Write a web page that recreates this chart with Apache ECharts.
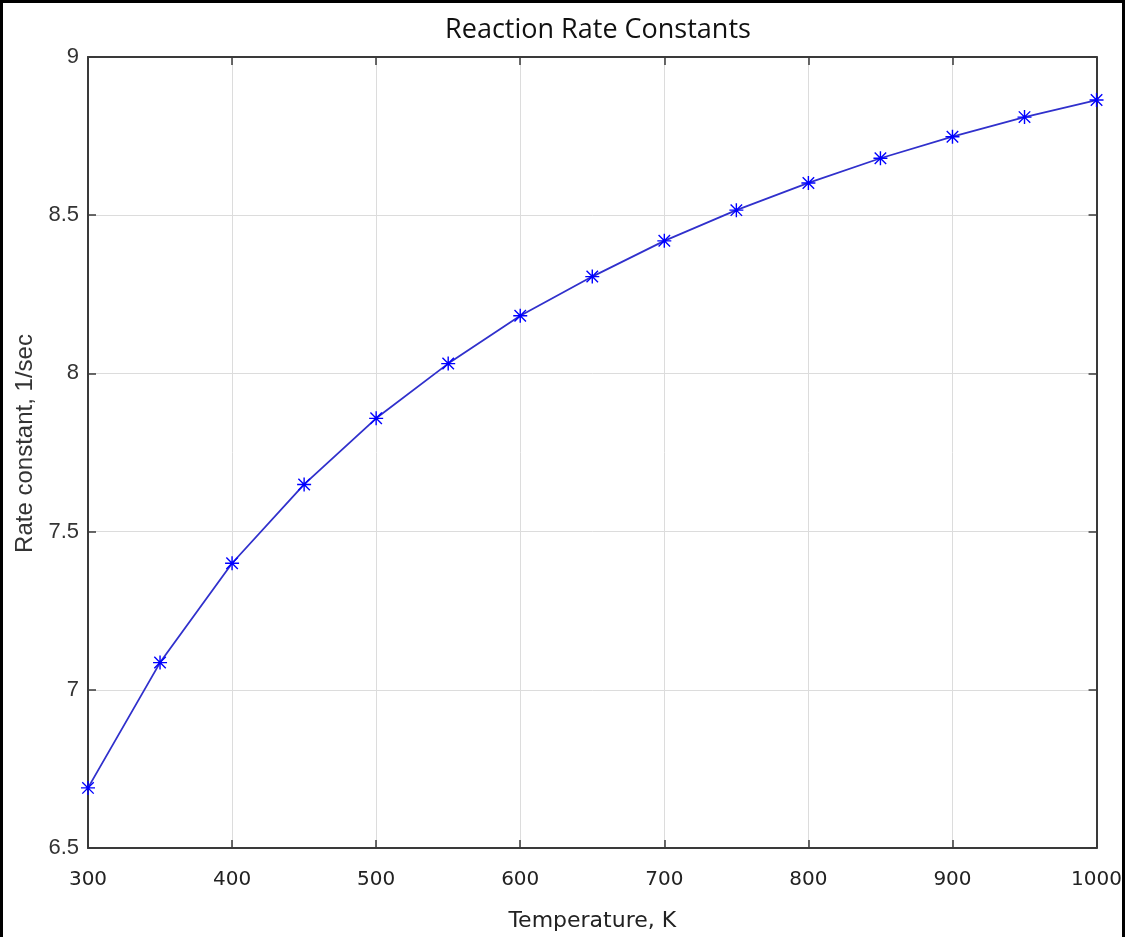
<!DOCTYPE html>
<html>
<head>
<meta charset="utf-8">
<script src="https://cdn.jsdelivr.net/npm/echarts@6/dist/echarts.min.js"></script>
<style>
html,body{margin:0;padding:0;background:#fff;}
#frame{position:absolute;left:0;top:0;width:1125px;height:937px;box-sizing:border-box;border-left:3px solid #000;border-top:3px solid #000;border-right:3px solid #000;}
#chart{position:absolute;left:0;top:0;width:1125px;height:937px;}
</style>
</head>
<body>
<div id="chart"></div>
<div id="frame"></div>
<script>
const titleText = 'Reaction Rate Constants';
const xName = 'Temperature, K';
const yName = 'Rate constant, 1/sec';
const temperatures = [300, 350, 400, 450, 500, 550, 600, 650, 700, 750, 800, 850, 900, 950, 1000];
const rates = [6.69, 7.086, 7.40, 7.649, 7.858, 8.031, 8.182, 8.306, 8.419, 8.516, 8.602, 8.680, 8.748, 8.810, 8.864];

const points = temperatures.map((t, i) => [t, rates[i]]);
const asterisk = 'path://M9 0H11V20H9Z M0 9H20V11H0Z M2.5 1.1L18.9 17.5L17.5 18.9L1.1 2.5Z M17.5 1.1L18.9 2.5L2.5 18.9L1.1 17.5Z';
const axisCol = '#3a3a3a';

const chart = echarts.init(document.getElementById('chart'), null, {renderer: 'canvas'});
chart.setOption({
  backgroundColor: '#fff',
  animation: false,
  title: {
    text: titleText, left: 593, top: 12, textAlign: 'center',
    textStyle: {fontFamily: 'Open Sans', fontSize: 27, fontWeight: 'normal', color: '#111'}
  },
  grid: {left: 88, right: 28, top: 57, bottom: 88, containLabel: false},
  xAxis: [{
    type: 'value', min: 300, max: 1000, interval: 100,
    name: xName, nameLocation: 'middle', nameGap: 62,
    nameTextStyle: {fontFamily: 'DejaVu Sans', fontSize: 22, color: '#222'},
    axisLine: {show: true, lineStyle: {color: axisCol, width: 2}},
    axisTick: {show: true, inside: true, length: 8, lineStyle: {color: axisCol, width: 1.5}},
    axisLabel: {fontFamily: 'DejaVu Sans', fontSize: 20, color: '#222', margin: 22, formatter: v => String(v)},
    splitLine: {show: true, lineStyle: {color: '#dcdcdc', width: 1}}
  }, {
    type: 'value', position: 'top', min: 300, max: 1000, interval: 100,
    axisLine: {show: true, lineStyle: {color: axisCol, width: 2}},
    axisTick: {show: true, inside: true, length: 8, lineStyle: {color: axisCol, width: 1.5}},
    axisLabel: {show: false}, splitLine: {show: false}
  }],
  yAxis: [{
    type: 'value', min: 6.5, max: 9, interval: 0.5,
    name: yName, nameLocation: 'middle', nameGap: 50, nameRotate: 90,
    nameTextStyle: {fontFamily: 'Liberation Sans', fontSize: 24, color: '#333', padding: [0, 0, 0, 18]},
    axisLine: {show: true, lineStyle: {color: axisCol, width: 2}},
    axisTick: {show: true, inside: true, length: 8, lineStyle: {color: axisCol, width: 1.5}},
    axisLabel: {fontFamily: 'Liberation Sans', fontSize: 22, color: '#333', margin: 9},
    splitLine: {show: true, lineStyle: {color: '#dcdcdc', width: 1}}
  }, {
    type: 'value', position: 'right', min: 6.5, max: 9, interval: 0.5,
    axisLine: {show: true, lineStyle: {color: axisCol, width: 2}},
    axisTick: {show: true, inside: true, length: 8, lineStyle: {color: axisCol, width: 1.5}},
    axisLabel: {show: false}, splitLine: {show: false}
  }],
  series: [{
    type: 'line', xAxisIndex: 0, yAxisIndex: 0,
    data: points,
    symbol: asterisk, symbolSize: 14,
    itemStyle: {color: '#0000ff'},
    lineStyle: {color: '#3030cc', width: 1.8},
    z: 5
  }]
});
</script>
</body>
</html>
